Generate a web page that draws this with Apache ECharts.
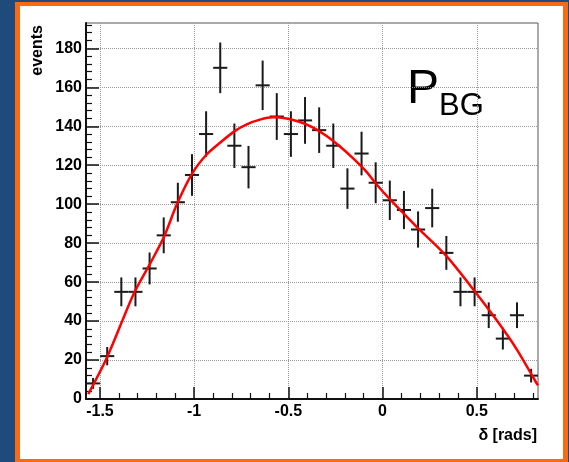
<!DOCTYPE html>
<html>
<head>
<meta charset="utf-8">
<script src="https://cdn.jsdelivr.net/npm/echarts@6/dist/echarts.min.js"></script>
<style>
  html, body { margin: 0; padding: 0; width: 569px; height: 462px; overflow: hidden; background: #1f4a7c; }
  #panel { position: absolute; left: 15px; top: 2px; width: 553px; height: 461px; box-sizing: border-box;
           border-style: solid; border-color: #fb6a10; border-width: 4px 5px 4px 5px; background: #ffffff; }
  #chart { position: absolute; left: 0; top: 0; width: 569px; height: 462px; }
</style>
</head>
<body>
<div id="panel"></div>
<div id="chart"></div>
<script>
// Histogram of background events vs. delta (32 bins, width 0.075 rad)
const binCenters = [-1.5365, -1.4615, -1.3865, -1.3115, -1.2365, -1.1615, -1.0865, -1.0115,
                    -0.9365, -0.8615, -0.7865, -0.7115, -0.6365, -0.5615, -0.4865, -0.4115,
                    -0.3365, -0.2615, -0.1865, -0.1115, -0.0365, 0.0385, 0.1135, 0.1885,
                    0.2635, 0.3385, 0.4135, 0.4885, 0.5635, 0.6385, 0.7135, 0.7885];
const counts = [8, 22, 55, 55, 67, 84, 101, 115, 136, 170, 130, 119, 161, 145, 136, 143,
                138, 130, 108, 126, 111, 102, 97, 87, 98, 75, 55, 55, 43, 31, 43, 12];
const countErrors = [2.8, 4.7, 7.4, 7.4, 8.2, 9.2, 10.0, 10.7, 11.7, 13.0, 11.4, 10.9, 12.7, 12.0, 11.7, 12.0,
                     11.7, 11.4, 10.4, 11.2, 10.5, 10.1, 9.8, 9.3, 9.9, 8.7, 7.4, 7.4, 6.6, 5.6, 6.6, 3.5];
const binWidth = 0.075;

// Fitted background shape
const fitX = [-1.562, -1.461, -1.320, -1.231, -1.160, -1.090, -1.010, -0.934, -0.863, -0.785,
              -0.721, -0.651, -0.583, -0.509, -0.438, -0.368, -0.297, -0.226, -0.156, -0.085,
              -0.035, 0.050, 0.181, 0.337, 0.490, 0.605, 0.712, 0.809, 0.825];
const fitY = [2.5, 21.7, 54.2, 70.0, 83.3, 100.3, 115.8, 125.5, 131.5, 137.5,
              141.0, 143.4, 144.6, 144.0, 142.2, 139.3, 135.0, 129.6, 123.5, 116.6,
              110.5, 101.4, 88.4, 73.6, 55.2, 40.5, 25.5, 9.5, 7.0];

// Axis ticks
const xMajorTicks = [-1.5, -1, -0.5, 0, 0.5];
const xMinorTicks = [-1.4, -1.3, -1.2, -1.1, -0.9, -0.8, -0.7, -0.6, -0.4, -0.3, -0.2, -0.1,
                     0.1, 0.2, 0.3, 0.4, 0.6, 0.7, 0.8];
const yMajorTicks = [0, 20, 40, 60, 80, 100, 120, 140, 160, 180];
const yMinorTicks = [4, 8, 12, 16, 24, 28, 32, 36, 44, 48, 52, 56, 64, 68, 72, 76, 84, 88, 92, 96,
                     104, 108, 112, 116, 124, 128, 132, 136, 144, 148, 152, 156, 164, 168, 172, 176,
                     184, 188, 192];
const xRange = [-1.574, 0.825];
const yRange = [0, 193];

const font = '"Liberation Sans", Arial, Helvetica, sans-serif';
const ink = '#111111';

const histData = binCenters.map((x, i) => [x, counts[i], countErrors[i]]);
const fitData = fitX.map((x, i) => [x, fitY[i]]);

const chart = echarts.init(document.getElementById('chart'), null, { renderer: 'canvas' });

chart.setOption({
  backgroundColor: 'transparent',
  animation: false,
  grid: {
    left: 86, top: 23, right: 31, bottom: 63,
    containLabel: false, outerBoundsMode: 'none',
    show: true, borderColor: '#555', borderWidth: 1, backgroundColor: 'transparent'
  },
  xAxis: [{
    type: 'value', min: xRange[0], max: xRange[1], position: 'bottom',
    axisLine: { show: true, onZero: false, lineStyle: { color: ink, width: 2 } },
    axisTick: { show: true, inside: true, length: 12, customValues: xMajorTicks,
                lineStyle: { color: ink, width: 1.5 } },
    axisLabel: { customValues: xMajorTicks, color: '#000', fontSize: 16, fontWeight: 'bold',
                 fontFamily: font, margin: 5 },
    splitLine: { show: true, lineStyle: { color: '#999', type: 'dotted', width: 1 } },
    name: 'δ [rads]', nameLocation: 'end', nameGap: 0, nameMoveOverlap: false,
    nameTextStyle: { color: '#000', fontSize: 16, fontWeight: 'bold', fontFamily: font,
                     align: 'right', verticalAlign: 'top', padding: [29, 1, 0, 0] }
  }, {
    type: 'value', min: xRange[0], max: xRange[1], position: 'bottom',
    axisLine: { show: false, onZero: false },
    axisTick: { show: true, inside: true, length: 6, customValues: xMinorTicks,
                lineStyle: { color: ink, width: 1.2 } },
    axisLabel: { show: false },
    splitLine: { show: false }
  }],
  yAxis: [{
    type: 'value', min: yRange[0], max: yRange[1], position: 'left',
    axisLine: { show: true, onZero: false, lineStyle: { color: ink, width: 2 } },
    axisTick: { show: true, inside: true, length: 13, customValues: yMajorTicks,
                lineStyle: { color: ink, width: 1.5 } },
    axisLabel: { customValues: yMajorTicks, color: '#000', fontSize: 16, fontWeight: 'bold',
                 fontFamily: font, margin: 4 },
    splitLine: { show: true, lineStyle: { color: '#999', type: 'dotted', width: 1 } }
  }, {
    type: 'value', min: yRange[0], max: yRange[1], position: 'left',
    axisLine: { show: false, onZero: false },
    axisTick: { show: true, inside: true, length: 6, customValues: yMinorTicks,
                lineStyle: { color: ink, width: 1.2 } },
    axisLabel: { show: false },
    splitLine: { show: false }
  }],
  graphic: [{
    type: 'text', x: 38, y: 25, rotation: Math.PI / 2,
    style: { text: 'events', fill: '#000', fontSize: 16, fontWeight: 'bold', fontFamily: font,
             align: 'right', verticalAlign: 'middle' }
  }, {
    type: 'text', x: 407, y: 90,
    style: { text: 'P', fill: '#000', fontSize: 48, fontFamily: font, verticalAlign: 'middle' }
  }, {
    type: 'text', x: 439, y: 106,
    style: { text: 'BG', fill: '#000', fontSize: 31, fontFamily: font, verticalAlign: 'middle' }
  }],
  series: [{
    type: 'custom',
    name: 'data',
    xAxisIndex: 0, yAxisIndex: 0,
    clip: true,
    data: histData,
    encode: { x: 0, y: 1 },
    z: 3,
    renderItem: function (params, api) {
      const x = api.value(0), y = api.value(1), e = api.value(2);
      const top = api.coord([x, y + e]);
      const bot = api.coord([x, y - e]);
      const left = api.coord([x - binWidth / 2, y]);
      const right = api.coord([x + binWidth / 2, y]);
      const st = { stroke: '#1a1a1a', lineWidth: 2 };
      return {
        type: 'group',
        children: [
          { type: 'line', shape: { x1: top[0], y1: top[1], x2: bot[0], y2: bot[1] }, style: st },
          { type: 'line', shape: { x1: left[0], y1: left[1], x2: right[0], y2: right[1] }, style: st }
        ]
      };
    }
  }, {
    type: 'line',
    name: 'fit',
    xAxisIndex: 0, yAxisIndex: 0,
    data: fitData,
    smooth: 0.3,
    showSymbol: false,
    symbol: 'none',
    z: 4,
    lineStyle: { color: '#ff0000', width: 2.5 }
  }]
});
</script>
</body>
</html>
